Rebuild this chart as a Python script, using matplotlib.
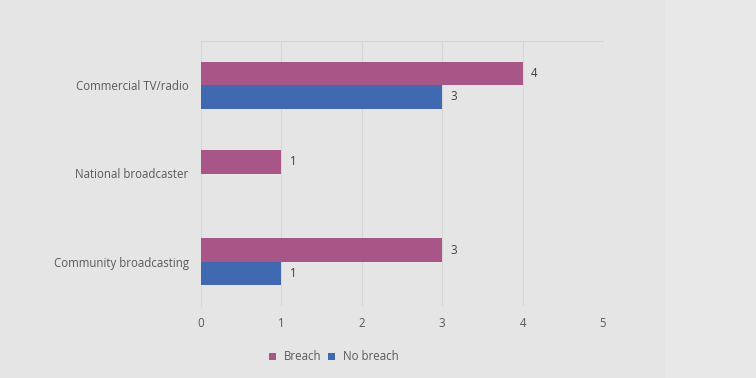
import matplotlib
matplotlib.use("Agg")
import matplotlib.pyplot as plt
import numpy as np

categories = ["Commercial TV/radio", "National broadcaster", "Community broadcasting"]
breach = [4, 1, 3]
no_breach = [3, 0, 1]
series_names = ["Breach", "No breach"]
colors = ["#A85587", "#4169B2"]
xticks = [0, 1, 2, 3, 4, 5]

plt.rcParams['font.family'] = ['Open Sans', 'DejaVu Sans']
text_color = "#595959"
fs = 8.3

fig = plt.figure(figsize=(7.56, 3.78), dpi=100)
fig.patch.set_facecolor("#E8E8E8")
fig.patches.append(matplotlib.patches.Rectangle((0, 0), 665/756, 1, transform=fig.transFigure,
                                                 facecolor="#E5E5E5", edgecolor="none", zorder=-10))
ax = fig.add_axes([201/756, 1-306/378, 402/756, 265/378])
ax.set_facecolor("none")

y = np.arange(len(categories))
h = 0.267
ax.barh(y - h/2, breach, height=h, color=colors[0], label=series_names[0], zorder=3)
ax.barh(y + h/2, no_breach, height=h, color=colors[1], label=series_names[1], zorder=3)

for i, v in enumerate(breach):
    if v > 0:
        ax.annotate(str(v), (v, y[i] - h/2), xytext=(6, 0), textcoords="offset points",
                    va="center", ha="left", fontsize=fs, color="#404040")
for i, v in enumerate(no_breach):
    if v > 0:
        ax.annotate(str(v), (v, y[i] + h/2), xytext=(6, 0), textcoords="offset points",
                    va="center", ha="left", fontsize=fs, color="#404040")

ax.set_xlim(0, 5)
ax.set_ylim(2.5, -0.5)
ax.set_xticks(xticks)
ax.set_xticklabels([str(t) for t in xticks])
ax.set_yticks(y)
ax.set_yticklabels(categories)
ax.tick_params(axis='both', length=0, labelsize=fs, colors=text_color)
ax.tick_params(axis='x', pad=8)
ax.tick_params(axis='y', pad=9)
ax.grid(axis='x', color="#D6D6D6", linewidth=0.8, zorder=0)
for s in ["right", "bottom"]:
    ax.spines[s].set_visible(False)
ax.spines["top"].set_color("#D6D6D6")
ax.spines["top"].set_linewidth(0.8)
ax.spines["left"].set_color("#D6D6D6")
ax.spines["left"].set_linewidth(0.8)

leg = fig.legend(loc="center", bbox_to_anchor=(334/756, 1-357/378), ncol=2, frameon=False,
                 fontsize=fs, handlelength=0.6, handleheight=0.6, handletextpad=0.7,
                 columnspacing=0.6)
for t in leg.get_texts():
    t.set_color(text_color)

fig.savefig("out.png", dpi=100, facecolor=fig.get_facecolor())
